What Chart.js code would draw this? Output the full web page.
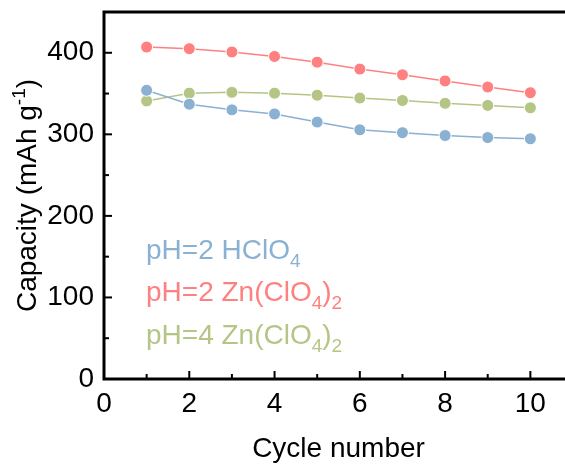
<!DOCTYPE html>
<html>
<head>
<meta charset="utf-8">
<script src="https://cdn.jsdelivr.net/npm/chart.js@4.4.1/dist/chart.umd.min.js"></script>
<style>
  html, body { margin: 0; padding: 0; background: #fff; overflow: hidden; }
  #wrap { width: 580px; height: 466px; position: relative; }
</style>
</head>
<body>
<div id="wrap"><canvas id="chart"></canvas></div>
<script>
// capacity per cycle for each electrolyte
const cycles = [1, 2, 3, 4, 5, 6, 7, 8, 9, 10]
const hclo4Ph2 = [354, 337, 330, 325, 315, 305.5, 302, 298.5, 296, 294.5]
const znPh2 = [407, 405, 401, 395.5, 388.5, 380, 373, 365.5, 358, 351]
const znPh4 = [341, 350.5, 351.5, 350.5, 348, 344.5, 341.5, 338, 335.5, 332.5]

// _{..} is a subscript, ^{..} a superscript
const seriesLabels = ['pH=2 HClO_{4}', 'pH=2 Zn(ClO_{4})_{2}', 'pH=4 Zn(ClO_{4})_{2}']
const seriesColors = ['#8ab0d2', '#ff8080', '#b4c586']
const xTicks = [0, 2, 4, 6, 8, 10]
const yTicks = [0, 100, 200, 300, 400]
const xTitle = 'Cycle number'
const yTitle = 'Capacity (mAh g^{-1})'

const FONT = "'Liberation Sans', Arial, sans-serif"
const SIZE = 28
const SMALL = 19

/**
 * Split a label into plain / sub / sup pieces
 * @param {string} str
 * @returns {{text: string, mode: string}[]}
 */
function parseRich(str) {
    const parts = []
    const re = /([_^])\{([^}]*)\}/g
    let last = 0
    let m
    while ((m = re.exec(str)) !== null) {
        if (m.index > last) parts.push({ text: str.slice(last, m.index), mode: 'normal' })
        parts.push({ text: m[2], mode: m[1] === '_' ? 'sub' : 'sup' })
        last = re.lastIndex
    }
    if (last < str.length) parts.push({ text: str.slice(last), mode: 'normal' })
    return parts
}

function richWidth(ctx, parts) {
    return parts.reduce((w, p) => {
        ctx.font = `${p.mode === 'normal' ? SIZE : SMALL}px ${FONT}`
        return w + ctx.measureText(p.text).width
    }, 0)
}

/**
 * Draw rich text with its baseline at (x, y), left aligned
 */
function drawRich(ctx, str, x, y, color) {
    const parts = parseRich(str)
    ctx.fillStyle = color
    ctx.textBaseline = 'alphabetic'
    ctx.textAlign = 'left'
    parts.forEach(p => {
        ctx.font = `${p.mode === 'normal' ? SIZE : SMALL}px ${FONT}`
        const dy = p.mode === 'sub' ? 8 : p.mode === 'sup' ? -11 : 0
        ctx.fillText(p.text, x, y + dy)
        x += ctx.measureText(p.text).width
    })
}

function midpoints(arr) {
    const out = []
    for (let i = 0; i < arr.length - 1; i++) out.push((arr[i] + arr[i + 1]) / 2)
    return out
}

// frame, inward ticks, axis titles and the text legend
const decorations = {
    id: 'decorations',
    afterDatasetsDraw(chart) {
        const { ctx, chartArea: a, scales: { x, y } } = chart
        ctx.save()
        ctx.strokeStyle = '#000'

        ctx.lineWidth = 2
        const tickX = (v, len) => {
            const px = x.getPixelForValue(v)
            ctx.beginPath(); ctx.moveTo(px, a.bottom); ctx.lineTo(px, a.bottom - len); ctx.stroke()
        }
        const tickY = (v, len) => {
            const py = y.getPixelForValue(v)
            ctx.beginPath(); ctx.moveTo(a.left, py); ctx.lineTo(a.left + len, py); ctx.stroke()
        }
        xTicks.forEach(v => tickX(v, 8))
        midpoints(xTicks).forEach(v => tickX(v, 5))
        yTicks.forEach(v => tickY(v, 8))
        midpoints(yTicks).forEach(v => tickY(v, 5))

        ctx.lineWidth = 3
        ctx.strokeRect(a.left, a.top, a.right - a.left, a.bottom - a.top)
        ctx.restore()
    },
    afterDraw(chart) {
        const { ctx, chartArea: a } = chart
        ctx.save()

        // x title
        ctx.font = `${SIZE}px ${FONT}`
        ctx.fillStyle = '#000'
        ctx.textAlign = 'center'
        ctx.textBaseline = 'alphabetic'
        ctx.fillText(xTitle, (a.left + a.right) / 2, 457)

        // y title, rotated
        const parts = parseRich(yTitle)
        const w = richWidth(ctx, parts)
        ctx.save()
        ctx.translate(36, (a.top + a.bottom) / 2)
        ctx.rotate(-Math.PI / 2)
        drawRich(ctx, yTitle, -w / 2, 0, '#000')
        ctx.restore()

        // legend as coloured labels
        seriesLabels.forEach((label, i) => {
            drawRich(ctx, label, 146, 258.5 + i * 42.5, seriesColors[i])
        })
        ctx.restore()
    }
}

function series(label, values, color) {
    return {
        label,
        data: values.map((v, i) => ({ x: cycles[i], y: v })),
        borderColor: color,
        backgroundColor: color,
        borderWidth: 1.5,
        pointRadius: 6,
        pointHoverRadius: 6,
        pointBackgroundColor: color,
        pointBorderColor: '#ffffff',
        pointBorderWidth: 1,
        tension: 0
    }
}

// no edge padding for the first/last tick labels
function noPadding(scale) {
    scale.paddingTop = 0
    scale.paddingBottom = 0
    scale.paddingLeft = 0
    scale.paddingRight = 0
}

function main() {
    const tickFont = { family: FONT, size: SIZE }
    new Chart(document.getElementById('chart'), {
        type: 'line',
        data: {
            datasets: [
                series(seriesLabels[0], hclo4Ph2, seriesColors[0]),
                series(seriesLabels[1], znPh2, seriesColors[1]),
                series(seriesLabels[2], znPh4, seriesColors[2])
            ]
        },
        options: {
            responsive: true,
            maintainAspectRatio: false,
            animation: false,
            events: [],
            layout: { padding: { top: 12, right: 7, left: 0, bottom: 0 } },
            plugins: { legend: { display: false }, tooltip: { enabled: false } },
            scales: {
                x: {
                    type: 'linear',
                    min: 0,
                    max: 11,
                    grid: { display: false, drawTicks: false },
                    border: { display: false },
                    ticks: {
                        stepSize: 2,
                        includeBounds: false,
                        autoSkip: false,
                        maxRotation: 0,
                        padding: 8,
                        color: '#000',
                        font: tickFont
                    },
                    afterFit: scale => { scale.height = 87; noPadding(scale) }
                },
                y: {
                    min: 0,
                    max: 450,
                    grid: { display: false, drawTicks: false },
                    border: { display: false },
                    ticks: {
                        stepSize: 100,
                        includeBounds: false,
                        padding: 10,
                        color: '#000',
                        font: tickFont
                    },
                    afterFit: scale => { scale.width = 104; noPadding(scale) }
                }
            }
        },
        plugins: [decorations]
    })
}

window.onload = main
</script>
</body>
</html>
